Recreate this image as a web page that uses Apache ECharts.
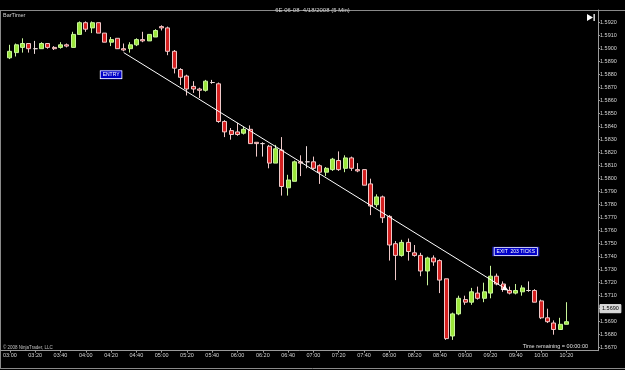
<!DOCTYPE html>
<html><head><meta charset="utf-8">
<script src="https://cdn.jsdelivr.net/npm/echarts@6/dist/echarts.min.js"></script>
<style>html,body{margin:0;padding:0;background:#000;}#c{width:625px;height:370px;}</style>
</head><body><div id="c"></div>
<script>
const times = ['03:00','03:05','03:10','03:15','03:20','03:25','03:30','03:35','03:40','03:45','03:50','03:55',
'04:00','04:05','04:10','04:15','04:20','04:25','04:30','04:35','04:40','04:45','04:50','04:55',
'05:00','05:05','05:10','05:15','05:20','05:25','05:30','05:35','05:40','05:45','05:50','05:55',
'06:00','06:05','06:10','06:15','06:20','06:25','06:30','06:35','06:40','06:45','06:50','06:55',
'07:00','07:05','07:10','07:15','07:20','07:25','07:30','07:35','07:40','07:45','07:50','07:55',
'08:00','08:05','08:10','08:15','08:20','08:25','08:30','08:35','08:40','08:45','08:50','08:55',
'09:00','09:05','09:10','09:15','09:20','09:25','09:30','09:35','09:40','09:45','09:50','09:55',
'10:00','10:05','10:10','10:15','10:20'];
const open = [1.5893,1.5897,1.5901,1.5904,1.5900,1.5900,1.5904,1.5901,1.5901,1.5903,1.5901,1.5911,
1.5920,1.5916,1.5920,1.5912,1.5905,1.5908,1.5900,1.5900,1.5903,1.5907,1.5906,1.5909,
1.5917,1.5916,1.5898,1.5884,1.5879,1.5871,1.5869,1.5868,1.5874,1.5873,1.5844,1.5837,
1.5836,1.5835,1.5838,1.5828,1.5827,1.5825,1.5812,1.5822,1.5793,1.5798,1.5813,1.5813,
1.5813,1.5810,1.5805,1.5807,1.5814,1.5808,1.5816,1.5807,1.5807,1.5796,1.5780,1.5786,
1.5771,1.5750,1.5741,1.5751,1.5743,1.5741,1.5729,1.5739,1.5737,1.5723,1.5679,1.5696,
1.5707,1.5705,1.5712,1.5708,1.5712,1.5725,1.5719,1.5714,1.5712,1.5713,1.5714,1.5714,
1.5706,1.5693,1.5689,1.5684,1.5688];
const close = [1.5898,1.5903,1.5904,1.5900,1.5900,1.5904,1.5901,1.5900,1.5903,1.5902,1.5911,1.5920,
1.5915,1.5920,1.5912,1.5905,1.5907,1.5900,1.5899,1.5903,1.5907,1.5906,1.5911,1.5914,
1.5916,1.5898,1.5885,1.5878,1.5869,1.5869,1.5868,1.5875,1.5874,1.5844,1.5836,1.5834,
1.5834,1.5838,1.5827,1.5827,1.5827,1.5812,1.5823,1.5794,1.5799,1.5813,1.5812,1.5813,
1.5808,1.5805,1.5808,1.5815,1.5807,1.5816,1.5808,1.5806,1.5795,1.5779,1.5786,1.5770,
1.5749,1.5741,1.5751,1.5744,1.5741,1.5729,1.5739,1.5736,1.5722,1.5677,1.5696,1.5708,
1.5705,1.5713,1.5708,1.5713,1.5725,1.5719,1.5715,1.5712,1.5714,1.5716,1.5714,1.5705,
1.5693,1.5690,1.5684,1.5688,1.5690];
const low = [1.5892,1.5894,1.5897,1.5897,1.5896,1.5900,1.5900,1.5899,1.5900,1.5901,1.5901,1.5911,
1.5913,1.5912,1.5912,1.5905,1.5902,1.5900,1.5898,1.5897,1.5902,1.5905,1.5906,1.5909,
1.5914,1.5895,1.5881,1.5872,1.5864,1.5866,1.5862,1.5867,1.5873,1.5843,1.5832,1.5830,
1.5833,1.5834,1.5827,1.5817,1.5817,1.5808,1.5812,1.5787,1.5787,1.5798,1.5802,1.5808,
1.5807,1.5796,1.5802,1.5806,1.5806,1.5805,1.5806,1.5805,1.5795,1.5772,1.5778,1.5766,
1.5737,1.5722,1.5740,1.5737,1.5740,1.5725,1.5718,1.5733,1.5712,1.5676,1.5676,1.5695,
1.5703,1.5703,1.5707,1.5705,1.5708,1.5718,1.5713,1.5711,1.5711,1.5710,1.5713,1.5705,
1.5692,1.5689,1.5680,1.5684,1.5688];
const high = [1.5903,1.5904,1.5908,1.5904,1.5906,1.5905,1.5904,1.5902,1.5905,1.5904,1.5913,1.5921,
1.5921,1.5921,1.5920,1.5912,1.5909,1.5908,1.5904,1.5905,1.5908,1.5913,1.5911,1.5915,
1.5918,1.5917,1.5899,1.5885,1.5880,1.5875,1.5870,1.5876,1.5876,1.5874,1.5845,1.5839,
1.5843,1.5840,1.5841,1.5828,1.5828,1.5826,1.5826,1.5832,1.5803,1.5814,1.5818,1.5825,
1.5817,1.5811,1.5809,1.5816,1.5821,1.5818,1.5817,1.5812,1.5807,1.5800,1.5788,1.5787,
1.5772,1.5752,1.5753,1.5754,1.5749,1.5743,1.5740,1.5741,1.5738,1.5723,1.5697,1.5710,
1.5710,1.5716,1.5717,1.5720,1.5733,1.5727,1.5721,1.5717,1.5719,1.5718,1.5721,1.5715,
1.5707,1.5700,1.5691,1.5693,1.5705];
const yTicks = [1.5670,1.5680,1.5690,1.5700,1.5710,1.5720,1.5730,1.5740,1.5750,1.5760,1.5770,1.5780,1.5790,
1.5800,1.5810,1.5820,1.5830,1.5840,1.5850,1.5860,1.5870,1.5880,1.5890,1.5900,1.5910,1.5920];
const xTickLabels = ['03:00','03:20','03:40','04:00','04:20','04:40','05:00','05:20','05:40','06:00','06:20','06:40',
'07:00','07:20','07:40','08:00','08:20','08:40','09:00','09:20','09:40','10:00','10:20'];
const trendLine = [[18, 1.5897], [78.8, 1.5714]];
const entryNote = {text: 'ENTRY', at: [16, 1.5880]};
const exitNote = {text: 'EXIT  203 TICKS', at: [80, 1.5744]};
const titleText = '6E 06-08  4/18/2008 (5 Min)';

const lastPrice = close[close.length - 1];
const candles = times.map((t, i) => [i, open[i], close[i], low[i], high[i]]);
const xTickIdx = xTickLabels.map(l => times.indexOf(l));
const FONT = 'Liberation Sans';
const axisGray = '#9a9a9a';
const txt = '#d4d4d4';

const chart = echarts.init(document.getElementById('c'), null, {renderer: 'canvas'});
chart.setOption({
  backgroundColor: '#000',
  animation: false,
  textStyle: {fontFamily: FONT},
  title: {text: titleText, left: 'center', top: 2,
    textStyle: {color: txt, fontSize: 6, fontWeight: 'normal', fontFamily: FONT}},
  grid: {left: 0, right: 27, top: 10, bottom: 19.3},
  xAxis: {
    type: 'value', min: -1.5, max: 93,
    axisLine: {onZero: false, lineStyle: {color: axisGray, width: 1}},
    axisTick: {show: true, customValues: xTickIdx, length: 2, lineStyle: {color: axisGray}},
    axisLabel: {customValues: xTickIdx, formatter: v => times[v], color: txt, fontSize: 5.5, margin: 2, fontFamily: FONT},
    splitLine: {show: false}
  },
  yAxis: {
    type: 'value', position: 'right', min: 1.566769, max: 1.592977, scale: true,
    axisLine: {show: true, onZero: false, lineStyle: {color: axisGray, width: 1}},
    axisTick: {show: true, customValues: yTicks, length: 2, lineStyle: {color: axisGray}},
    axisLabel: {customValues: yTicks, formatter: v => v.toFixed(4), color: txt, fontSize: 5.5, margin: 2, fontFamily: FONT},
    splitLine: {show: false}
  },
  graphic: [
    {type: 'line', shape: {x1: 0, y1: 10.5, x2: 625, y2: 10.5}, style: {stroke: '#8a8a8a', lineWidth: 1}},
    {type: 'line', shape: {x1: 0.5, y1: 10, x2: 0.5, y2: 368}, style: {stroke: '#8a8a8a', lineWidth: 1}},
    {type: 'line', shape: {x1: 0, y1: 368.5, x2: 625, y2: 368.5}, style: {stroke: '#8a8a8a', lineWidth: 1}},
    {type: 'text', x: 3, y: 12.5, style: {text: 'BarTimer', fill: txt, font: '5.5px ' + FONT}},
    {type: 'polygon', shape: {points: [[587, 14], [593, 17.5], [587, 21]]}, style: {fill: '#fff'}},
    {type: 'rect', shape: {x: 593.5, y: 14, width: 1.3, height: 7}, style: {fill: '#fff'}},
    {type: 'text', x: 3, y: 345, style: {text: '\u00a9 2008 NinjaTrader, LLC', fill: '#c0c0c0', font: '4.5px ' + FONT}},
    {type: 'text', x: 588, y: 343.5, style: {text: 'Time remaining = 00:00:00', fill: '#e0e0e0', font: '5.5px ' + FONT, align: 'right'}}
  ],
  series: [{
    type: 'candlestick',
    data: candles,
    barWidth: 4.5,
    itemStyle: {
      color: '#9be53a', color0: '#d42020',
      borderColor: '#c8f59a', borderColor0: '#f0c8c8', borderColorDoji: '#eadada',
      borderWidth: 1
    },
    markLine: {
      silent: true, symbol: ['none', 'arrow'], symbolSize: [5, 7],
      lineStyle: {color: '#ffffff', width: 1, type: 'solid'},
      label: {show: false},
      data: [[{coord: trendLine[0]}, {coord: trendLine[1]}]]
    },
    markPoint: {
      silent: true, symbol: 'rect',
      itemStyle: {color: '#1818a8'},
      label: {show: true, position: 'inside', color: '#fff', fontSize: 5, fontFamily: FONT,
        backgroundColor: '#0000c8', borderColor: '#ffffff', borderWidth: 0.8, padding: [1, 2]},
      data: [
        {coord: entryNote.at, symbolSize: [22, 9.5], label: {formatter: entryNote.text}},
        {coord: exitNote.at, symbolSize: [47, 9.5], label: {formatter: exitNote.text}}
      ]
    }
  }, {
    type: 'line', data: [],
    markLine: {
      silent: true, symbol: 'none',
      lineStyle: {color: 'rgba(0,0,0,0)'},
      label: {show: true, position: 'end', distance: 2, formatter: lastPrice.toFixed(4),
        color: '#000', backgroundColor: '#d8d8d8', fontSize: 5.5, fontFamily: FONT,
        padding: [1, 2], borderColor: '#ffffff', borderWidth: 0.5},
      data: [{yAxis: lastPrice}]
    }
  }]
});
</script></body></html>
